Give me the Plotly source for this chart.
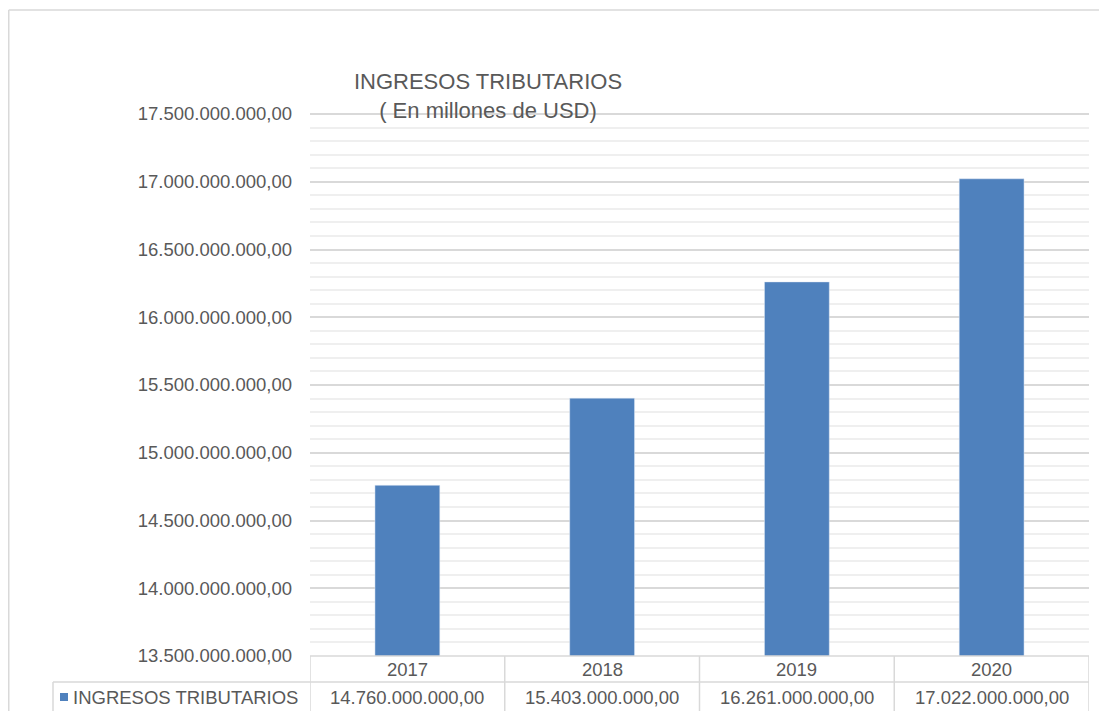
import plotly.graph_objects as go

# ---- data ----
years = ["2017", "2018", "2019", "2020"]
ingresos = [14760000000, 15403000000, 16261000000, 17022000000]
series_name = "INGRESOS TRIBUTARIOS"
title_lines = ["INGRESOS TRIBUTARIOS", "( En millones de USD)"]

# ---- layout constants (reference-screen pixels) ----
OFF = 8                                   # browser body margin
W, H = 1107 - OFF, 719 - 2 * OFF          # figure size
L, R, T, B = 310, 1089, 114, 656          # axis span (screen px): 17.5e9 at T, 13.5e9 at B
PAD_TOP = 3                               # extra px above top gridline so it is not clipped
ROW1_B, ROW2_B = 682, 712                 # table row bottoms
LEG_L = 53                                # legend cell left
TXT = "#595959"
GRID = "#d9d9d9"
MINOR = "#efefef"
BAR = "#4f81bd"
FONT = "Liberation Sans, Arial, sans-serif"
FS = 18.5
Y_MIN, Y_MAX = 13.5e9, 17.5e9
Y_TOP = Y_MAX + (Y_MAX - Y_MIN) * PAD_TOP / (B - T)

PW, PH = R - L, B - (T - PAD_TOP)
def py(p):   # screen pixel y -> paper y
    return (B - p) / PH
def px(p):   # screen pixel x -> paper x
    return (p - L) / PW

def fmt(v):
    s = f"{v:,.2f}"
    return s.replace(",", "X").replace(".", ",").replace("X", ".")

fig = go.Figure()
fig.add_trace(go.Bar(x=years, y=ingresos, marker_color=BAR, name=series_name,
                     showlegend=False, hovertemplate="%{x}: %{y}<extra></extra>"))

shapes = []
# outer chart border (top + left)
shapes.append(dict(type="line", xref="paper", yref="paper", x0=px(OFF + 0.75), x1=px(1120),
                   y0=py(10), y1=py(10), line=dict(color=GRID, width=1.5)))
shapes.append(dict(type="line", xref="paper", yref="paper", x0=px(OFF + 0.75), x1=px(OFF + 0.75),
                   y0=py(10), y1=py(740), line=dict(color=GRID, width=1.5)))
# table horizontal lines
for yy, x0 in [(B, L), (ROW1_B, LEG_L), (ROW2_B, LEG_L)]:
    shapes.append(dict(type="line", xref="paper", yref="paper", x0=px(x0), x1=1,
                       y0=py(yy), y1=py(yy), line=dict(color=GRID, width=1.5)))
# table vertical lines at category boundaries
for i in range(len(years) + 1):
    shapes.append(dict(type="line", xref="x", yref="paper", x0=i - 0.5, x1=i - 0.5,
                       y0=py(B), y1=py(ROW2_B), line=dict(color=GRID, width=1.5)))
# legend cell left border
shapes.append(dict(type="line", xref="paper", yref="paper", x0=px(LEG_L), x1=px(LEG_L),
                   y0=py(ROW1_B), y1=py(ROW2_B), line=dict(color=GRID, width=1.5)))
# legend key
shapes.append(dict(type="rect", xref="paper", yref="paper", x0=px(60), x1=px(68),
                   y0=py(701), y1=py(693), fillcolor=BAR, line=dict(width=0)))

annotations = []
for i, (yr, v) in enumerate(zip(years, ingresos)):
    annotations.append(dict(x=i, xref="x", y=py((B + ROW1_B) / 2), yref="paper",
                            text=yr, showarrow=False, yanchor="middle",
                            font=dict(size=FS, color=TXT, family=FONT)))
    annotations.append(dict(x=i, xref="x", y=py((ROW1_B + ROW2_B) / 2), yref="paper",
                            text=fmt(v), showarrow=False, yanchor="middle",
                            font=dict(size=FS, color=TXT, family=FONT)))
annotations.append(dict(x=px(71), xref="paper", y=py((ROW1_B + ROW2_B) / 2), yref="paper",
                        text=series_name, showarrow=False, xanchor="left", yanchor="middle",
                        font=dict(size=FS, color=TXT, family=FONT)))

fig.update_layout(
    width=W, height=H,
    margin=dict(l=L - OFF, r=W - (R - OFF), t=T - PAD_TOP - OFF, b=H - (B - OFF), pad=0),
    paper_bgcolor="white", plot_bgcolor="white",
    separators=",.",
    bargap=0.667,
    font=dict(family=FONT, size=FS, color=TXT),
    title=dict(text="<br>".join(title_lines), xref="container", yref="container",
               x=(488 - OFF) / W, xanchor="center", y=1 - (96 - OFF - 7) / H, yanchor="middle",
               font=dict(size=22, color=TXT, family=FONT)),
    xaxis=dict(type="category", range=[-0.5, len(years) - 0.5], showticklabels=False,
               showgrid=False, showline=False, zeroline=False, ticks=""),
    yaxis=dict(range=[Y_MIN, Y_TOP], dtick=5e8, tick0=Y_MIN, tickformat=",.2f",
               showgrid=True, gridcolor=GRID, gridwidth=1.5, zeroline=False,
               showline=False, ticks="", ticklabelstandoff=17,
               tickfont=dict(size=FS, color=TXT, family=FONT),
               minor=dict(dtick=1e8, tick0=Y_MIN, showgrid=True, gridcolor=MINOR,
                          gridwidth=1.5, ticks="")),
    shapes=shapes,
    annotations=annotations,
)

fig.write_html("out.html")
